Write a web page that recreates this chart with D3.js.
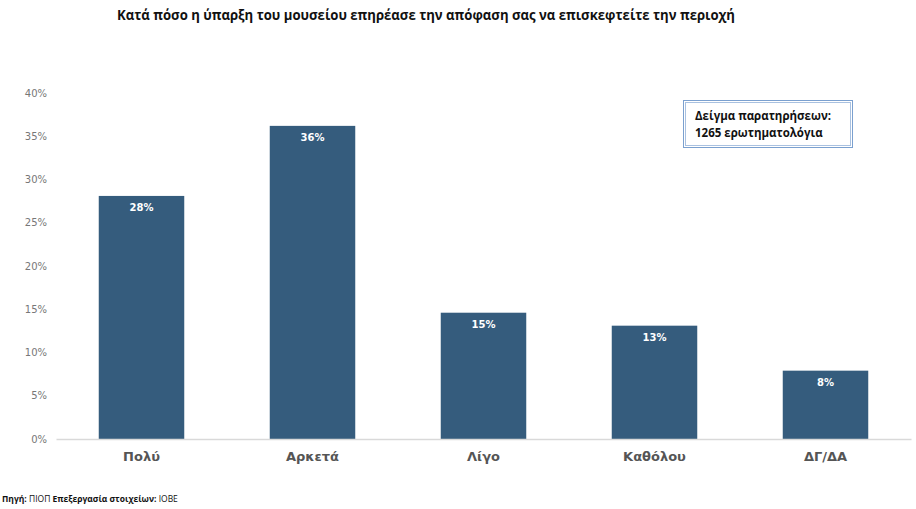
<!DOCTYPE html>
<html><head><meta charset="utf-8">
<script src="https://cdn.jsdelivr.net/npm/d3@7"></script>
<style>body{margin:0;background:#fff}</style>
</head><body>
<svg id="c" width="916" height="509"></svg>
<script>
const categories = ["Πολύ","Αρκετά","Λίγο","Καθόλου","ΔΓ/ΔΑ"];
const values = [28.1, 36.2, 14.6, 13.1, 7.9];
const yTicks = [0,5,10,15,20,25,30,35,40];
const title = "Κατά πόσο η ύπαρξη του μουσείου επηρέασε την απόφαση σας να επισκεφτείτε την περιοχή";
const noteLines = ["Δείγμα παρατηρήσεων:","1265 ερωτηματολόγια"];

const svg = d3.select("#c");
const x = d3.scaleBand().domain(categories).range([56,911]).paddingInner(0.5).paddingOuter(0.25);
const y = d3.scaleLinear().domain([0,40]).range([439,93]);

svg.append("text").attr("x",117).attr("y",20)
  .attr("textLength",618).attr("lengthAdjust","spacingAndGlyphs")
  .style("font-family","'Open Sans',sans-serif").style("font-weight","bold")
  .style("font-size","14px").attr("fill","#111").text(title);

// y axis labels
const ya = svg.append("g").attr("transform","translate(47,0)")
  .call(d3.axisLeft(y).tickValues(yTicks).tickSize(0).tickPadding(0).tickFormat(d=>d+"%"));
ya.select(".domain").remove();
ya.selectAll("text").style("font-family","'Century Gothic','DejaVu Sans',sans-serif").style("font-size","10px").attr("fill","#777");

// bars
svg.selectAll("rect.bar").data(values).enter().append("rect").attr("class","bar")
  .attr("x",(d,i)=>x(categories[i])).attr("width",x.bandwidth())
  .attr("y",d=>y(d)).attr("height",d=>y(0)-y(d)).attr("fill","#355c7d");

// x axis
const xa = svg.append("g").attr("transform","translate(0,439)")
  .call(d3.axisBottom(x).tickSize(0).tickPadding(13));
xa.select(".domain").attr("stroke","#d9d9d9").attr("stroke-width",1.5);
xa.selectAll("text").style("font-family","'Century Gothic','DejaVu Sans',sans-serif").style("font-size","13px")
  .style("font-weight","bold").attr("fill","#555");

// value labels
svg.selectAll("text.val").data(values).enter().append("text").attr("class","val")
  .attr("x",(d,i)=>x(categories[i])+x.bandwidth()/2).attr("y",d=>y(d)+15)
  .attr("text-anchor","middle").style("font-family","'DejaVu Sans',sans-serif").style("font-weight","bold")
  .style("font-size","10px").attr("fill","#fff").text(d=>d3.format(".0f")(d)+"%");

// note box
svg.append("rect").attr("x",683.5).attr("y",100.5).attr("width",169).attr("height",47).attr("fill","none").attr("stroke","#7ba0cf").attr("stroke-width",1);
svg.append("rect").attr("x",685.5).attr("y",102.5).attr("width",165).attr("height",43).attr("fill","#fff").attr("stroke","#a9c1e0").attr("stroke-width",1);
svg.selectAll("text.note").data(noteLines).enter().append("text").attr("class","note")
  .attr("x",695).attr("y",(d,i)=>120+i*17).style("font-family","'Open Sans',sans-serif").style("font-weight","bold")
  .style("font-size","11.5px").attr("fill","#111").text(d=>d);

// footer
const f = svg.append("text").attr("x",2).attr("y",502).style("font-family","'Open Sans',sans-serif").style("font-size","8.5px").attr("fill","#111");
f.append("tspan").style("font-weight","bold").text("Πηγή:");
f.append("tspan").text(" ΠΙΟΠ ");
f.append("tspan").style("font-weight","bold").text("Επεξεργασία στοιχείων:");
f.append("tspan").text(" ΙΟΒΕ");
</script>
</body></html>
